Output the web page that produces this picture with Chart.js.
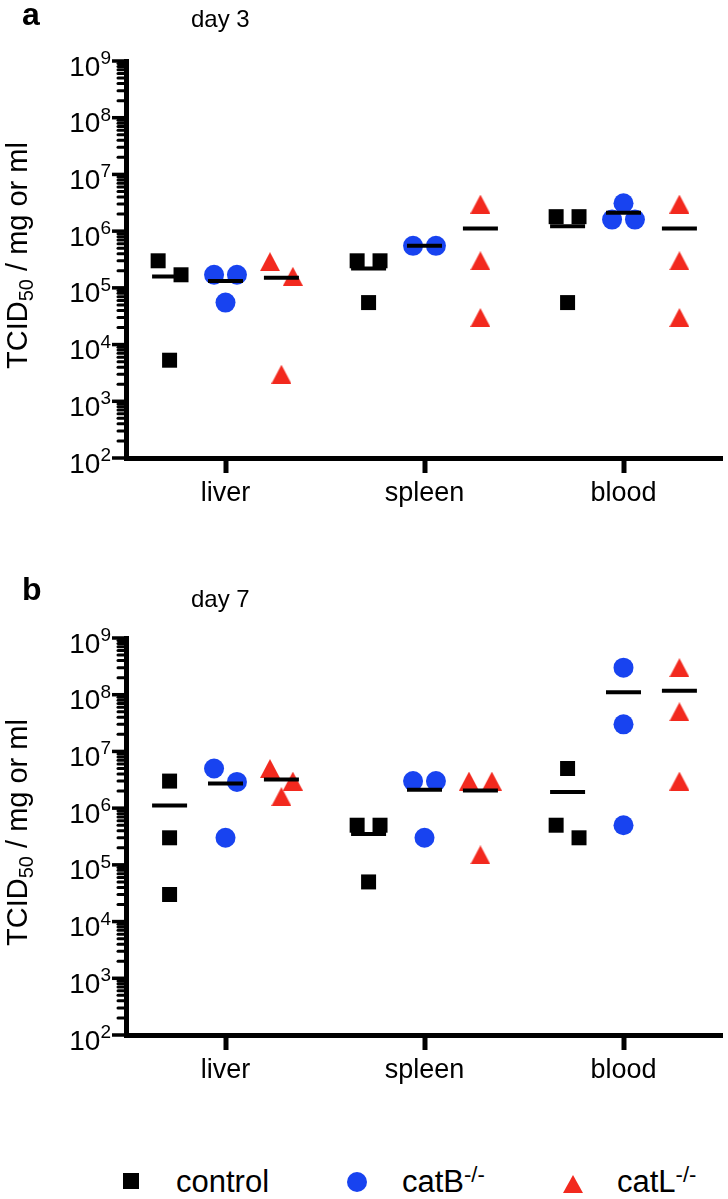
<!DOCTYPE html>
<html><head><meta charset="utf-8">
<script src="https://cdn.jsdelivr.net/npm/chart.js@4.4.1/dist/chart.umd.min.js"></script>
<style>
html,body{margin:0;padding:0;background:#fff;}
#page{position:relative;width:728px;height:1199px;overflow:hidden;font-family:"Liberation Sans",Arial,sans-serif;color:#000;}
#page canvas{position:absolute;left:0;}
.lbl{position:absolute;line-height:1;white-space:nowrap;}
.sup{position:relative;top:-10px;font-size:22px;}
.sym{position:absolute;}
</style></head><body>
<div id="page">
<canvas id="chartA" width="728" height="560" style="top:0px"></canvas>
<canvas id="chartB" width="728" height="560" style="top:577px"></canvas>
<div class="lbl" style="left:22px;top:-2px;font-weight:bold;font-size:32px">a</div>
<div class="lbl" style="left:191px;top:7px;font-size:24px">day 3</div>
<div class="lbl" style="left:22px;top:573px;font-weight:bold;font-size:32px">b</div>
<div class="lbl" style="left:191px;top:587px;font-size:24px">day 7</div>
<div id="legend"></div>
</div>
<script>
// ---- data ----
const categories = ['liver', 'spleen', 'blood'];
const groupNames = ['control', 'catB', 'catL'];
const groupSup = ['', '-/-', '-/-'];
const decades = [2, 3, 4, 5, 6, 7, 8, 9];
// TCID50 per group, one inner array per category (liver, spleen, blood)
const day3Control = [[3.0e5, 1.7e5, 5.3e3], [3.0e5, 3.0e5, 5.5e4], [1.8e6, 1.8e6, 5.5e4]];
const day3CatB    = [[1.7e5, 1.7e5, 5.5e4], [5.5e5, 5.5e5], [3.1e6, 1.6e6, 1.6e6]];
const day3CatL    = [[2.9e5, 1.6e5, 3.0e3], [3.0e6, 3.0e5, 3.0e4], [3.0e6, 3.0e5, 3.0e4]];
const day7Control = [[3.0e6, 3.0e5, 3.0e4], [5.0e5, 5.0e5, 5.0e4], [5.0e6, 5.0e5, 3.0e5]];
const day7CatB    = [[5.0e6, 2.9e6, 3.0e5], [3.0e6, 3.0e6, 3.0e5], [3.0e8, 3.0e7, 5.0e5]];
const day7CatL    = [[5.0e6, 3.0e6, 1.6e6], [3.0e6, 3.0e6, 1.5e5], [3.0e8, 5.0e7, 3.0e6]];

// ---- styling ----
const FONT = '"Liberation Sans", Arial, sans-serif';
const COLORS = ['#000000', '#1843F0', '#F2291E'];
const GROUP_OFFSET = [-0.281, 0, 0.281];
const SPREAD_STEP = 0.115;
const SPREAD_THRESH = 0.27;

function triCanvas(w, h, color) {
  const c = document.createElement('canvas');
  c.width = w; c.height = h;
  const g = c.getContext('2d');
  g.fillStyle = color;
  g.beginPath(); g.moveTo(w / 2, 0); g.lineTo(w, h); g.lineTo(0, h); g.closePath(); g.fill();
  return c;
}

// horizontal spreading of overlapping points (scatter dot plot style)
function spread(values) {
  const idx = values.map((v, i) => i).sort((a, b) => values[b] - values[a]);
  const offs = new Array(values.length).fill(0);
  let cluster = [idx[0]];
  const flush = () => { const n = cluster.length; cluster.forEach((k, j) => offs[k] = (j - (n - 1) / 2) * SPREAD_STEP); };
  for (let t = 1; t < idx.length; t++) {
    const prev = idx[t - 1], cur = idx[t];
    if (Math.log10(values[prev]) - Math.log10(values[cur]) < SPREAD_THRESH) cluster.push(cur);
    else { flush(); cluster = [cur]; }
  }
  flush();
  return offs;
}

const axisDecor = {
  id: 'axisDecor',
  afterDraw(chart) {
    const ctx = chart.ctx, ys = chart.scales.y, area = chart.chartArea;
    const ax = area.left;
    ctx.save();
    ctx.strokeStyle = '#000'; ctx.fillStyle = '#000';
    decades.forEach((e, i) => {
      const py = ys.getPixelForValue(Math.pow(10, e));
      ctx.lineWidth = 3.5; ctx.lineCap = 'butt';
      ctx.beginPath(); ctx.moveTo(ax - 14, py); ctx.lineTo(ax, py); ctx.stroke();
      if (i < decades.length - 1) {
        ctx.lineWidth = 3; ctx.lineCap = 'round';
        for (let m = 2; m <= 9; m++) {
          const pm = ys.getPixelForValue(m * Math.pow(10, e));
          ctx.beginPath(); ctx.moveTo(ax - 8, pm); ctx.lineTo(ax, pm); ctx.stroke();
        }
      }
      ctx.textAlign = 'right'; ctx.textBaseline = 'alphabetic';
      ctx.font = '19px ' + FONT;
      const sup = String(e);
      const sw = ctx.measureText(sup).width;
      ctx.fillText(sup, 111, py + 3);
      ctx.font = '28px ' + FONT;
      ctx.fillText('10', 111 - sw, py + 14.5);
    });
    // y axis title with subscript
    const cy = (area.top + area.bottom) / 2 - 4;
    ctx.translate(27, cy);
    ctx.rotate(-Math.PI / 2);
    ctx.textAlign = 'left';
    const parts = [['TCID', 29, 0], ['50', 20, 6], [' / mg or ml', 29, 0]];
    let total = 0;
    parts.forEach(p => { ctx.font = p[1] + 'px ' + FONT; p.push(ctx.measureText(p[0]).width); total += p[3]; });
    let x = -total / 2;
    parts.forEach(p => { ctx.font = p[1] + 'px ' + FONT; ctx.fillText(p[0], x, p[2]); x += p[3]; });
    ctx.restore();
  }
};

function makeChart(id, seriesList) {
  const styles = ['rect', 'circle', triCanvas(20, 19, COLORS[2])];
  const radii = [10.6, 10, 10];
  const meanPts = [];
  const datasets = seriesList.map((series, g) => {
    const pts = [];
    series.forEach((vals, c) => {
      const offs = spread(vals);
      vals.forEach((v, k) => pts.push({ x: c + GROUP_OFFSET[g] + offs[k], y: v }));
      const mean = vals.reduce((a, b) => a + b, 0) / vals.length;
      meanPts.push({ x: c + GROUP_OFFSET[g], y: mean });
    });
    return {
      label: groupNames[g], data: pts, pointStyle: styles[g], pointRadius: radii[g],
      pointBackgroundColor: COLORS[g], pointBorderWidth: 0, pointBorderColor: COLORS[g],
      showLine: false, clip: false
    };
  });
  datasets.unshift({
    label: 'mean', data: meanPts, pointStyle: 'line', pointRadius: 17.5,
    pointBorderWidth: 4, pointBorderColor: '#000', pointBackgroundColor: '#000', showLine: false, clip: false
  });
  return new Chart(document.getElementById(id), {
    type: 'scatter',
    data: { datasets },
    options: {
      responsive: false, animation: false, devicePixelRatio: 1,
      layout: { padding: { top: 61, right: 5, left: 0, bottom: 0 }, autoPadding: false },
      plugins: { legend: { display: false }, tooltip: { enabled: false } },
      events: [],
      scales: {
        x: {
          type: 'linear', min: -0.5, max: 2.5,
          afterBuildTicks: s => { s.ticks = categories.map((_, i) => ({ value: i })); },
          afterFit: s => { s.height = 102; },
          ticks: { callback: v => categories[v], font: { family: FONT, size: 27 }, color: '#000', padding: 4, maxRotation: 0, minRotation: 0, autoSkip: false },
          grid: { display: true, drawOnChartArea: false, drawTicks: true, tickLength: 15, tickWidth: 5, tickColor: '#000', color: '#000', lineWidth: 0 },
          border: { display: true, width: 5, color: '#000' }
        },
        y: {
          type: 'logarithmic', min: 100, max: 1e9,
          afterFit: s => { s.width = 126; },
          ticks: { display: false },
          grid: { display: false },
          border: { display: true, width: 5, color: '#000' }
        }
      }
    },
    plugins: [axisDecor]
  });
}

makeChart('chartA', [day3Control, day3CatB, day3CatL]);
makeChart('chartB', [day7Control, day7CatB, day7CatL]);

// legend
const legend = document.getElementById('legend');
const legSym = [
  '<div class="sym" style="left:123px;top:1173px;width:16px;height:16px;background:' + COLORS[0] + '"></div>',
  '<div class="sym" style="left:347px;top:1172px;width:20px;height:20px;border-radius:50%;background:' + COLORS[1] + '"></div>',
  '<div class="sym" style="left:563px;top:1175px;width:0;height:0;border-left:10px solid transparent;border-right:10px solid transparent;border-bottom:18px solid ' + COLORS[2] + '"></div>'
];
const legTextX = [176, 402, 617];
groupNames.forEach((n, g) => {
  legend.insertAdjacentHTML('beforeend', legSym[g] +
    '<div class="lbl" style="left:' + legTextX[g] + 'px;top:1166px;font-size:31px">' + n +
    (groupSup[g] ? '<span class="sup">' + groupSup[g] + '</span>' : '') + '</div>');
});
</script>
</body></html>
